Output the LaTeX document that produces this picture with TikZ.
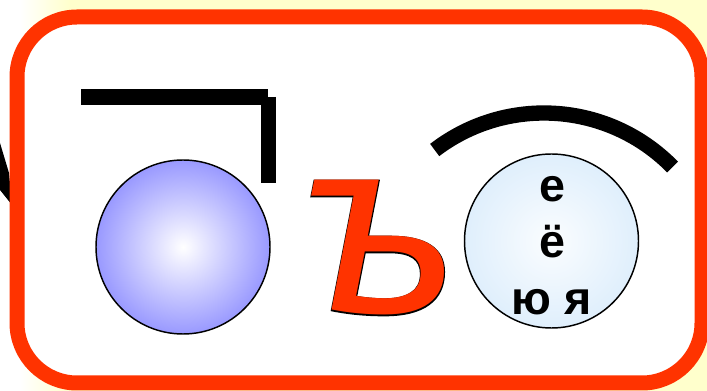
\documentclass[tikz,border=0pt]{standalone}
\usepackage{fontspec}
\setmainfont{Liberation Sans}
\newfontfamily\hardfont{Liberation Sans}
\newfontfamily\hardedge{Liberation Sans}[ItalicFeatures={FakeBold=0.7}]
\definecolor{framered}{HTML}{FF3300}
\definecolor{creamback}{HTML}{FFFFCC}
\definecolor{ballblue}{HTML}{7070FF}
\definecolor{paleblue}{HTML}{D4E9FB}
\pgfdeclareradialshading{ballglow}{\pgfpoint{0bp}{0bp}}{color(0bp)=(white); color(35bp)=(ballblue); color(50bp)=(ballblue)}
\pgfdeclareradialshading{vowelglow}{\pgfpoint{0bp}{0bp}}{color(0bp)=(white!90!paleblue); color(35bp)=(paleblue); color(50bp)=(paleblue)}

\begin{document}
\begin{tikzpicture}[x=0.75pt, y=-0.75pt,
    frame/.style={
        draw=framered,
        line width=11.25pt,
        rounded corners=45pt,
        fill=white
    },
    thickline/.style={
        line width=11.5pt
    },
    ball/.style={
        circle,
        draw=black,
        line width=1.1pt,
        minimum size=130.5pt,
        inner sep=0pt
    },
    vowel/.style={
        font=\fontsize{35}{35}\selectfont\bfseries,
        anchor=base,
        inner sep=0pt
    }
]
\useasboundingbox (0,0) rectangle (707,391);

% cream glow behind the frame
\shade[left color=white, right color=creamback] (20,0) rectangle (70,391);
\fill[creamback] (70,0) rectangle (707,391);

% piece of a stroke behind the left edge
\fill (0,143) -- (9,173) -- (12,205) -- (0,190) -- cycle;

% red frame
\draw[frame] (17,17) rectangle (702,383);

% corner bracket and arc
\draw[thickline] (81,97) -- (268,97);
\draw[thickline] (268.5,97) -- (268.5,183);
\draw[thickline] (544,293) ++(-127.4:180) arc[start angle=-127.4, end angle=-44.4, radius=180];

% balls
\node[ball, shading=ballglow] (ball) at (183,247) {};
\node[ball, shading=vowelglow] (vowelball) at (551.5,241) {};

% hard sign, outline under fill
\node[anchor=base, inner sep=0pt, text=black, font=\hardedge\itshape\fontsize{188}{188}\selectfont] (signedge) at (381,313) {ъ};
\node[anchor=base, inner sep=0pt, text=framered, font=\hardfont\itshape\fontsize{188}{188}\selectfont] (sign) at (381,313) {ъ};

% vowels
\node[vowel] (ve) at (552,202) {е};
\node[vowel] (vyo) at (552,258) {ё};
\node[vowel] (vyuya) at (551.5,315) {ю я};

\end{tikzpicture}
\end{document}
